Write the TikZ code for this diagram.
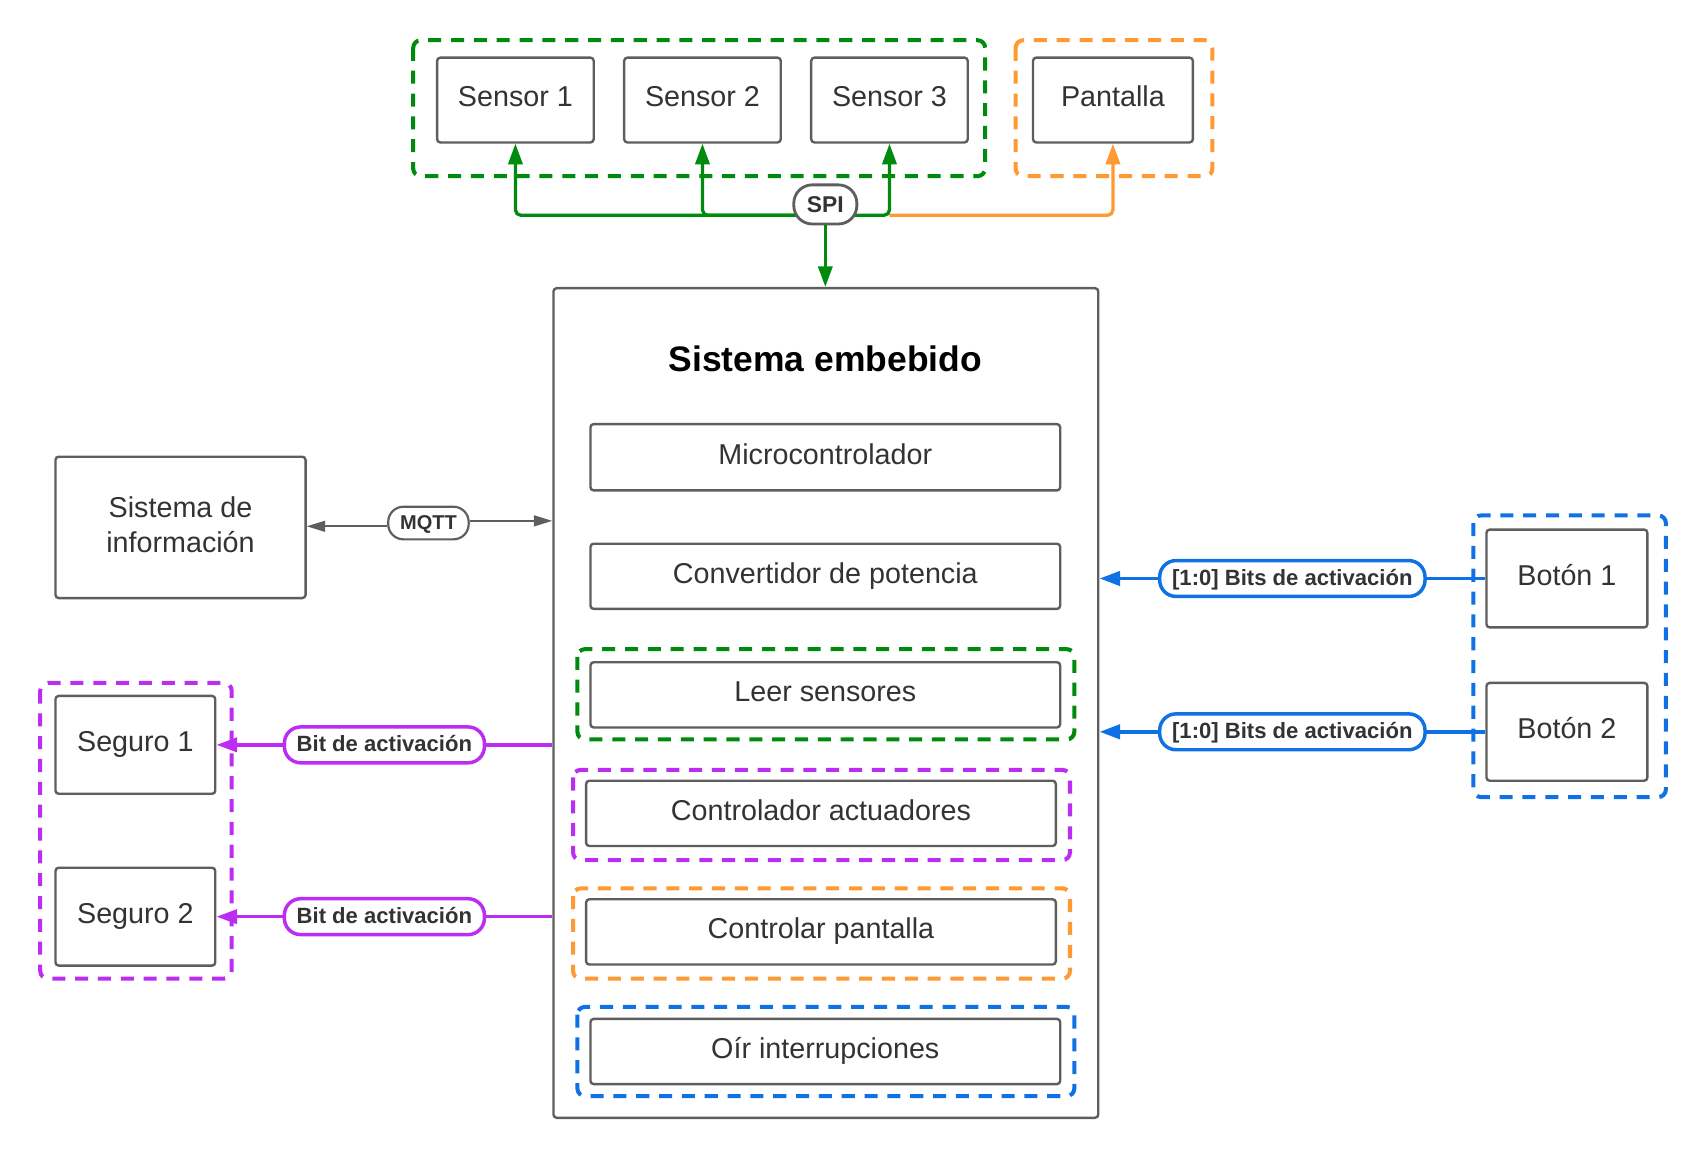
\documentclass[tikz,border=0pt]{standalone}
\usepackage{fontspec}
\setmainfont{Liberation Sans}
\usetikzlibrary{arrows.meta}
\definecolor{lgreen}{HTML}{008A0E}
\definecolor{lorange}{HTML}{FF9933}
\definecolor{lpurple}{HTML}{BC2CF2}
\definecolor{lblue}{HTML}{1071E5}
\definecolor{lgray}{HTML}{5E5E5E}
\definecolor{ltext}{HTML}{333333}
\begin{document}
\begin{tikzpicture}[x=1pt,y=-1pt,
  box/.style={draw=lgray, line width=2.2pt, rounded corners=3pt, fill=white, text=ltext,
    font=\fontsize{26.4}{32}\selectfont, inner sep=0pt,
    text height=19.2pt, text depth=6.6pt},
  mbox/.style={draw=lgray, line width=2.2pt, rounded corners=3pt, fill=white, text=ltext,
    font=\fontsize{26.4}{32}\selectfont, inner sep=0pt, align=center},
  grp/.style={draw=#1, line width=3.7pt, dash pattern=on 12pt off 9pt, rounded corners=7pt},
  pill/.style={draw=#1, line width=3.2pt, fill=white, rounded corners=15pt, text=ltext,
    font=\bfseries\fontsize{20.3}{24}\selectfont, inner sep=0pt,
    text height=15pt, text depth=3pt},
  conn/.style={draw=#1, line width=3pt, rounded corners=5pt},
  tip/.style={-{Triangle[length=19pt,width=13pt]}},
]
\useasboundingbox (0,0) rectangle (1568,1066);

% ---------- top ----------
\node[box, minimum width=144pt, minimum height=78pt] (s1) at (474,92) {Sensor 1};
\node[box, minimum width=144pt, minimum height=78pt] (s2) at (646,92) {Sensor 2};
\node[box, minimum width=144pt, minimum height=78pt] (s3) at (818,92) {Sensor 3};
\node[box, minimum width=147pt, minimum height=78pt] (pant) at (1023.5,92) {Pantalla};
\draw[grp=lgreen] (380,37) rectangle (906,162);
\draw[grp=lorange] (934,37) rectangle (1115,162);

\coordinate (bus) at (759,198);
\coordinate (bus3) at (818,198);
\draw[conn=lorange, tip, color=lorange] (bus3) -| (pant.south);
\draw[conn=lgreen, tip, color=lgreen] (bus) -| (s1.south);
\draw[conn=lgreen, tip, color=lgreen] (bus) -| (s2.south);
\draw[conn=lgreen, tip, color=lgreen] (bus) -| (s3.south);

% ---------- main ----------
\node[mbox, minimum width=501pt, minimum height=763pt] (main) at (759.5,646.5) {};
\node[font=\bfseries\fontsize{32.6}{39}\selectfont, text=black] (title) at (759,330) {Sistema embebido};

\node[pill=lgray, line width=2.6pt, minimum width=58pt, minimum height=36pt, rounded corners=17pt,
  font=\bfseries\fontsize{21}{25}\selectfont, text height=15.5pt, text depth=1.1pt] (spi) at (759,188) {SPI};
\draw[conn=lgreen, tip, color=lgreen] (spi.south) -- (spi.south |- main.north);

\node[box, minimum width=432pt, minimum height=61pt] (micro) at (759,420.5) {Microcontrolador};
\node[box, minimum width=432pt, minimum height=60pt] (conv) at (759,530) {Convertidor de potencia};
\node[box, minimum width=432pt, minimum height=60pt] (leer) at (759,639) {Leer sensores};
\node[box, minimum width=432pt, minimum height=60pt] (cact) at (755,748) {Controlador actuadores};
\node[box, minimum width=432pt, minimum height=60pt] (cpan) at (755,857) {Controlar pantalla};
\node[box, minimum width=432pt, minimum height=60pt] (oir) at (759,967) {Oír interrupciones};
\draw[grp=lgreen] (531,597) rectangle (988,680);
\draw[grp=lpurple] (527,708) rectangle (984,791);
\draw[grp=lorange] (527,817) rectangle (984,900);
\draw[grp=lblue] (531,926) rectangle (988,1008);

% ---------- left ----------
\node[mbox, minimum width=230pt, minimum height=130pt, text depth=5.4pt] (info) at (166,485) {Sistema de\\información};
\node[pill=lgray, line width=2pt, minimum width=74pt, minimum height=30pt, rounded corners=14pt,
  font=\bfseries\fontsize{18.4}{22}\selectfont, text height=13.5pt, text depth=0.9pt] (mqtt) at (394,481) {MQTT};
\draw[draw=lgray, line width=1.8pt, -{Triangle[length=17pt,width=10pt]}] (mqtt.west |- 0,484) -- (info.east |- 0,484);
\draw[draw=lgray, line width=1.8pt, -{Triangle[length=17pt,width=10pt]}] (mqtt.east |- 0,479) -- (main.west |- 0,479);

\node[box, minimum width=147pt, minimum height=90pt] (seg1) at (124.5,685) {Seguro 1};
\node[box, minimum width=147pt, minimum height=90pt] (seg2) at (124.5,843) {Seguro 2};
\draw[grp=lpurple] (37,628) rectangle (213,900);
\draw[conn=lpurple, color=lpurple, line width=3.3pt, tip] (main.west |- seg1.east) -- node[pill=lpurple, minimum width=184pt, minimum height=33pt] (bit1) {Bit de activación} (seg1.east);
\draw[conn=lpurple, color=lpurple, line width=3.3pt, tip] (main.west |- seg2.east) -- node[pill=lpurple, minimum width=184pt, minimum height=33pt] (bit2) {Bit de activación} (seg2.east);

% ---------- right ----------
\node[box, minimum width=148pt, minimum height=90pt] (b1) at (1441,532) {Botón 1};
\node[box, minimum width=148pt, minimum height=90pt] (b2) at (1441,673) {Botón 2};
\draw[grp=lblue] (1355,474) rectangle (1532,733);
\draw[conn=lblue, color=lblue, line width=3.6pt, tip] (b1.west) -- node[pill=lblue, minimum width=244pt, minimum height=33pt] (bits1) {[1:0] Bits de activación} (main.east |- b1.west);
\draw[conn=lblue, color=lblue, line width=3.6pt, tip] (b2.west) -- node[pill=lblue, minimum width=244pt, minimum height=33pt] (bits2) {[1:0] Bits de activación} (main.east |- b2.west);
\end{tikzpicture}
\end{document}
